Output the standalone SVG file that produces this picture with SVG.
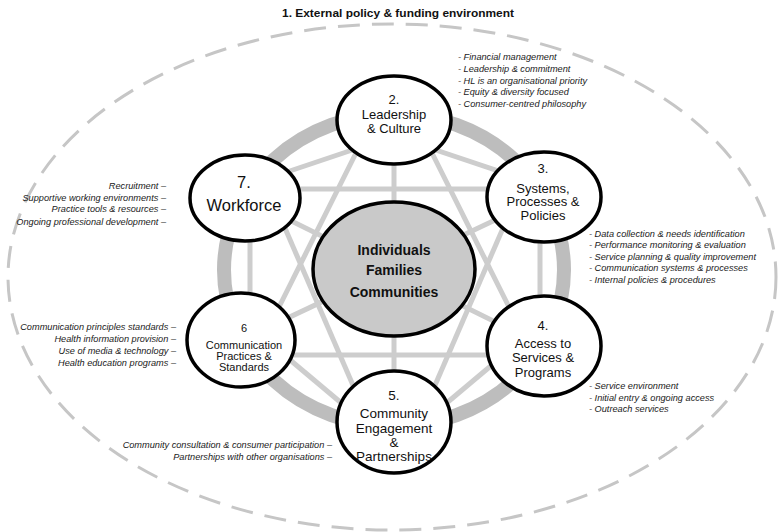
<svg xmlns="http://www.w3.org/2000/svg" width="778" height="532" viewBox="0 0 778 532">
<style>
.lbl{font-family:"Liberation Sans",Arial,sans-serif;fill:#111;text-anchor:middle}
.lst{font-family:"Liberation Sans",Arial,sans-serif;font-style:italic;font-size:9.2px;fill:#1a1a1a}
.node{fill:#fff;stroke:#000;stroke-width:3.5}
.ln{stroke:#cdcdcd;stroke-width:5;fill:none}
</style>
<rect width="778" height="532" fill="#fff"/>
<ellipse cx="392" cy="277" rx="384" ry="253" fill="none" stroke="#c6c6c6" stroke-width="3" stroke-dasharray="22 12"/>
<text x="398" y="17" class="lbl" font-size="11.5" font-weight="bold" textLength="232" lengthAdjust="spacingAndGlyphs" fill="#222">1. External policy &amp; funding environment</text>
<ellipse cx="394" cy="270" rx="170" ry="156" fill="none" stroke="#bdbdbd" stroke-width="14"/>
<g id="connectors">
<line class="ln" x1="400" y1="138" x2="525" y2="180"/>
<line class="ln" x1="388" y1="138" x2="263" y2="180"/>
<line class="ln" x1="540" y1="225" x2="540" y2="315"/>
<line class="ln" x1="250" y1="225" x2="250" y2="310"/>
<line class="ln" x1="505" y1="354" x2="430" y2="417"/>
<line class="ln" x1="283" y1="354" x2="358" y2="417"/>
<line class="ln" x1="245" y1="189" x2="544" y2="189"/>
<line class="ln" x1="241" y1="355" x2="544" y2="355"/>
<line class="ln" x1="275" y1="205" x2="365" y2="413"/>
<line class="ln" x1="513" y1="205" x2="423" y2="413"/>
<line class="ln" x1="365" y1="135" x2="270" y2="325"/>
<line class="ln" x1="423" y1="135" x2="518" y2="325"/>
<line class="ln" x1="245" y1="198" x2="544" y2="346"/>
<line class="ln" x1="544" y1="197" x2="241" y2="340"/>
<line class="ln" x1="394" y1="120" x2="394" y2="422"/>
</g>
<g id="center">
<ellipse cx="394" cy="269" rx="81" ry="67" fill="#c9c9c9" stroke="#000" stroke-width="3.5"/>
<text class="lbl" font-size="14" font-weight="bold"><tspan x="394" y="255">Individuals</tspan><tspan x="394" y="275">Families</tspan><tspan x="394" y="297">Communities</tspan></text>
</g>
<g id="node2">
<ellipse class="node" cx="394" cy="120" rx="57" ry="44"/>
<text class="lbl" font-size="13"><tspan x="394" y="104">2.</tspan><tspan x="394" y="119">Leadership</tspan><tspan x="394" y="133">&amp; Culture</tspan></text>
</g>
<g id="node3">
<ellipse class="node" cx="544" cy="197" rx="57" ry="45"/>
<text class="lbl" font-size="13"><tspan x="543" y="172.5">3.</tspan><tspan x="543" y="192.5">Systems,</tspan><tspan x="543" y="206">Processes &amp;</tspan><tspan x="543" y="219.5">Policies</tspan></text>
</g>
<g id="node4">
<ellipse class="node" cx="544" cy="346" rx="57" ry="50"/>
<text class="lbl" font-size="13"><tspan x="543" y="329.5">4.</tspan><tspan x="543" y="348">Access to</tspan><tspan x="543" y="362">Services &amp;</tspan><tspan x="543" y="376.5">Programs</tspan></text>
</g>
<g id="node5">
<ellipse class="node" cx="394" cy="422" rx="57" ry="51"/>
<text class="lbl" font-size="13.5"><tspan x="394" y="400">5.</tspan><tspan x="394" y="418">Community</tspan><tspan x="394" y="433">Engagement</tspan><tspan x="394" y="447">&amp;</tspan><tspan x="394" y="461">Partnerships</tspan></text>
</g>
<g id="node6">
<ellipse class="node" cx="241" cy="340" rx="54" ry="47"/>
<text class="lbl" font-size="11"><tspan x="244" y="332">6</tspan><tspan x="244" y="349">Communication</tspan><tspan x="244" y="360">Practices &amp;</tspan><tspan x="244" y="371">Standards</tspan></text>
</g>
<g id="node7">
<ellipse class="node" cx="245" cy="198" rx="55" ry="43"/>
<text class="lbl" font-size="16.5"><tspan x="244" y="188">7.</tspan><tspan x="244" y="211">Workforce</tspan></text>
</g>
<g id="list2" class="lst">
<text x="458" y="60">- Financial management</text>
<text x="458" y="72">- Leadership &amp; commitment</text>
<text x="458" y="84">- HL is an organisational priority</text>
<text x="458" y="95">- Equity &amp; diversity focused</text>
<text x="458" y="107">- Consumer-centred philosophy</text>
</g>
<g id="list3" class="lst">
<text x="589" y="237">- Data collection &amp; needs identification</text>
<text x="589" y="248">- Performance monitoring &amp; evaluation</text>
<text x="589" y="260">- Service planning &amp; quality improvement</text>
<text x="589" y="271">- Communication systems &amp; processes</text>
<text x="589" y="283">- Internal policies &amp; procedures</text>
</g>
<g id="list4" class="lst">
<text x="589" y="389">- Service environment</text>
<text x="589" y="401">- Initial entry &amp; ongoing access</text>
<text x="589" y="412">- Outreach services</text>
</g>
<g id="list5" class="lst" text-anchor="end">
<text x="332" y="448">Community consultation &amp; consumer participation –</text>
<text x="332" y="460">Partnerships with other organisations –</text>
</g>
<g id="list6" class="lst" text-anchor="end">
<text x="176" y="330">Communication principles standards –</text>
<text x="176" y="342">Health information provision –</text>
<text x="176" y="354">Use of media &amp; technology –</text>
<text x="176" y="366">Health education programs –</text>
</g>
<g id="list7" class="lst" text-anchor="end">
<text x="166" y="189">Recruitment –</text>
<text x="166" y="201">Supportive working environments –</text>
<text x="166" y="212">Practice tools &amp; resources –</text>
<text x="166" y="225">Ongoing professional development –</text>
</g>
</svg>
